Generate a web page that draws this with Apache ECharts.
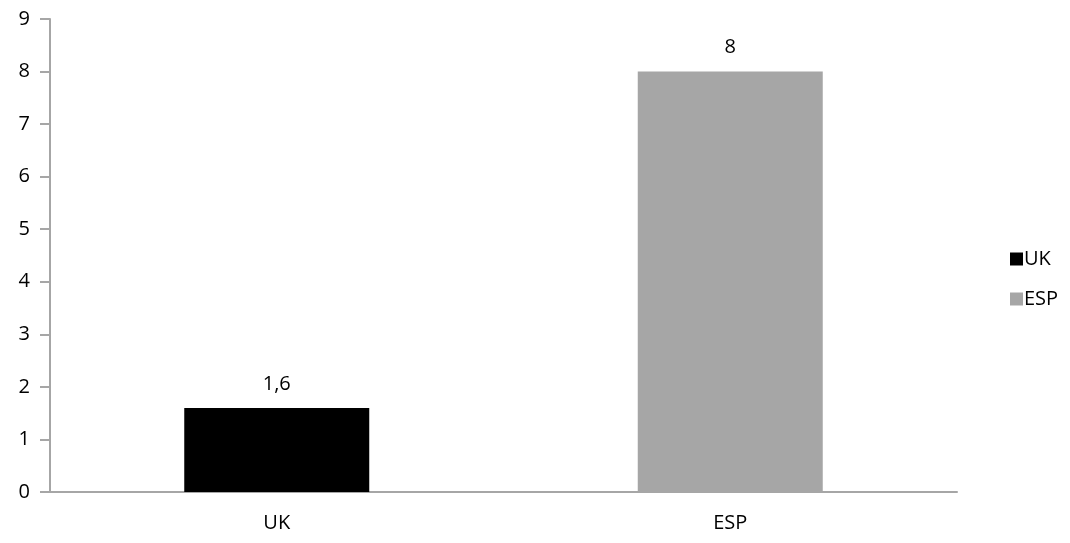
<!DOCTYPE html>
<html>
<head>
<meta charset="utf-8">
<script src="https://cdn.jsdelivr.net/npm/echarts@6/dist/echarts.min.js"></script>
<style>
  html, body { margin: 0; padding: 0; background: #fff; }
  #chart { width: 1070px; height: 543px; }
</style>
</head>
<body>
<div id="chart"></div>
<script>
// categories and values
var categories = ['UK', 'ESP'];
var ukValues = [1.6, '-'];
var espValues = ['-', 8];
var yTicks = [0, 9, 1]; // min, max, step

var chart = echarts.init(document.getElementById('chart'));
var font = '"Open Sans", "DejaVu Sans", sans-serif';
var txt = '#000000';

// 1.6 -> "1,6"
function commaLabel(p) {
    return String(p.value).replace('.', ',');
}

chart.setOption({
    animation: false,
    textStyle: { fontFamily: font },
    grid: { left: 50, right: 113, top: 19, bottom: 51 },
    legend: {
        orient: 'vertical',
        left: 1005,
        top: 244,
        itemWidth: 13,
        itemHeight: 13,
        itemGap: 20,
        icon: 'rect',
        textStyle: { fontSize: 20, color: txt, fontWeight: 500, fontFamily: font, padding: [0, 0, 0, -4] },
        data: ['UK', 'ESP']
    },
    xAxis: {
        type: 'category',
        data: categories,
        axisLine: { lineStyle: { color: '#a6a6a6', width: 2 } },
        axisTick: { length: 7, lineStyle: { color: '#a6a6a6', width: 2 } },
        axisLabel: { fontSize: 20, color: txt, fontWeight: 500, margin: 21, fontFamily: font }
    },
    yAxis: {
        type: 'value',
        min: yTicks[0],
        max: yTicks[1],
        interval: yTicks[2],
        axisLine: { show: true, lineStyle: { color: '#a6a6a6', width: 2 } },
        axisTick: { show: true, length: 10, lineStyle: { color: '#a6a6a6', width: 2 } },
        splitLine: { show: false },
        axisLabel: { fontSize: 20, color: txt, fontWeight: 500, margin: 20, fontFamily: font }
    },
    series: [{
        name: 'UK',
        type: 'bar',
        stack: 'all',
        barWidth: 185,
        data: ukValues,
        itemStyle: { color: '#000000' },
        label: { show: true, position: 'top', distance: 14, fontSize: 20, fontWeight: 500, color: txt, formatter: commaLabel }
    }, {
        name: 'ESP',
        type: 'bar',
        stack: 'all',
        barWidth: 185,
        data: espValues,
        itemStyle: { color: '#a6a6a6' },
        label: { show: true, position: 'top', distance: 14, fontSize: 20, fontWeight: 500, color: txt, formatter: commaLabel }
    }]
});
</script>
</body>
</html>
